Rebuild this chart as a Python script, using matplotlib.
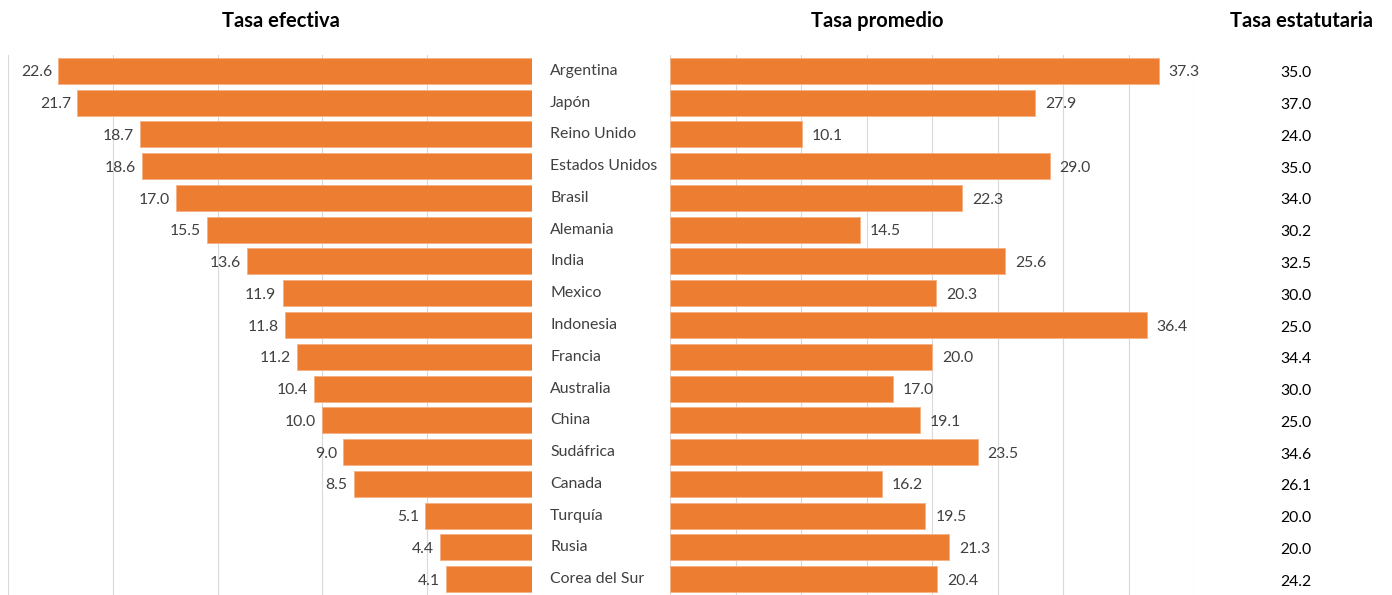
import numpy as np
import matplotlib
matplotlib.use('Agg')
import matplotlib.pyplot as plt

plt.rcParams['font.family'] = ['Lato', 'DejaVu Sans']

# Datos
paises = ['Argentina', 'Japón', 'Reino Unido', 'Estados Unidos', 'Brasil', 'Alemania',
          'India', 'Mexico', 'Indonesia', 'Francia', 'Australia', 'China', 'Sudáfrica',
          'Canada', 'Turquía', 'Rusia', 'Corea del Sur']
tasa_efectiva = [22.6, 21.7, 18.7, 18.6, 17.0, 15.5, 13.6, 11.9, 11.8, 11.2, 10.4,
                 10.0, 9.0, 8.5, 5.1, 4.4, 4.1]
tasa_promedio = [37.3, 27.9, 10.1, 29.0, 22.3, 14.5, 25.6, 20.3, 36.4, 20.0, 17.0,
                 19.1, 23.5, 16.2, 19.5, 21.3, 20.4]
tasa_estatutaria = [35.0, 37.0, 24.0, 35.0, 34.0, 30.2, 32.5, 30.0, 25.0, 34.4, 30.0,
                    25.0, 34.6, 26.1, 20.0, 20.0, 24.2]

naranja = '#ED7D31'
gris_txt = '#404040'
gris_grid = '#D9D9D9'

W, H = 1392, 595
fig = plt.figure(figsize=(W / 100, H / 100), dpi=100)

y = np.arange(len(paises))

# Panel izquierdo: tasa efectiva
ax1 = fig.add_axes([8 / W, 0, 524 / W, 540 / H])
ax1.barh(y, tasa_efectiva, height=0.82, color=naranja, edgecolor='#F4B183', linewidth=0.6, zorder=2)
ax1.set_xlim(25, 0)
ax1.set_ylim(len(paises) - 0.5, -0.5)
ax1.set_xticks(np.arange(0, 26, 5))
ax1.grid(axis='x', color=gris_grid, linewidth=0.8, zorder=0)
for v, yy in zip(tasa_efectiva, y):
    ax1.text(v + 0.3, yy + 0.05, f'{v:.1f}', ha='right', va='center', fontsize=11.3, color=gris_txt)

# Panel derecho: tasa promedio
ax2 = fig.add_axes([670 / W, 0, 524 / W, 540 / H])
ax2.barh(y, tasa_promedio, height=0.82, color=naranja, edgecolor='#F4B183', linewidth=0.6, zorder=2)
ax2.set_xlim(0, 40)
ax2.set_ylim(len(paises) - 0.5, -0.5)
ax2.set_xticks(np.arange(0, 41, 5))
ax2.grid(axis='x', color=gris_grid, linewidth=0.8, zorder=0)
for v, yy in zip(tasa_promedio, y):
    ax2.text(v + 0.75, yy + 0.05, f'{v:.1f}', ha='left', va='center', fontsize=11.3, color=gris_txt)

# Nombres de países entre los paneles
for p, yy in zip(paises, y):
    ax2.text(-9.15, yy, p, ha='left', va='center', fontsize=11.4, color=gris_txt, clip_on=False)

# Columna de tasa estatutaria
ax3 = fig.add_axes([1200 / W, 0, 192 / W, 540 / H])
ax3.set_xlim(0, 1)
ax3.set_ylim(len(paises) - 0.5, -0.5)
for v, yy in zip(tasa_estatutaria, y):
    ax3.text(0.5, yy + 0.08, f'{v:.1f}', ha='center', va='center', fontsize=11.3, color='black')

for ax in (ax1, ax2, ax3):
    ax.tick_params(left=False, bottom=False, labelleft=False, labelbottom=False)
    for s in ax.spines.values():
        s.set_visible(False)
ax3.axis('off')

# Títulos
fig.text(281 / W, 1 - 21 / H, 'Tasa efectiva', ha='center', va='center', fontsize=14.5, fontweight='bold')
fig.text(877 / W, 1 - 21 / H, 'Tasa promedio', ha='center', va='center', fontsize=14.5, fontweight='bold')
fig.text(1301 / W, 1 - 21 / H, 'Tasa estatutaria', ha='center', va='center', fontsize=14.5, fontweight='bold')

fig.savefig('out.png', dpi=100)
